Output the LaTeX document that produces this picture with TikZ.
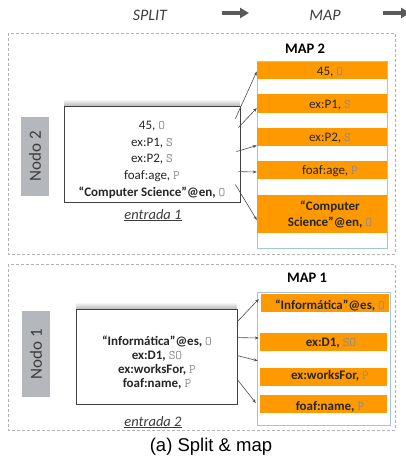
\documentclass[tikz,border=0pt]{standalone}
\usepackage{fontspec}
\setmainfont{Carlito}
\newfontfamily\capfont{Liberation Sans}
\usetikzlibrary{arrows.meta,calc}
\definecolor{barorange}{RGB}{255,153,0}
\definecolor{mapedge}{RGB}{160,196,226}
\definecolor{nodogray}{RGB}{180,184,188}
\definecolor{codegray}{RGB}{140,140,140}
\definecolor{inkgray}{RGB}{60,60,60}
\newcommand\roleltr[1]{{\ttfamily\mdseries\color{codegray}#1}}

\begin{document}
\begin{tikzpicture}[x=1pt,y=-1pt,
  hdr/.style={font=\fontsize{16}{18}\selectfont\itshape, text=inkgray, anchor=base, inner sep=0pt},
  flowarrow/.style={draw=inkgray!85, line width=4pt, -{Triangle[length=9pt,width=10pt]}},
  panelframe/.style={draw=gray!60, dash pattern=on 3pt off 2pt, line width=0.6pt},
  nodotag/.style={fill=nodogray, text=inkgray, rotate=90, inner sep=0pt,
    font=\fontsize{17}{19}\selectfont},
  inbox/.style={draw=black!75, fill=white, line width=0.8pt, inner sep=0pt},
  mapbox/.style={draw=mapedge, fill=white, line width=0.7pt, inner sep=0pt},
  bar/.style={fill=barorange, inner sep=0pt},
  txt/.style={font=\fontsize{13}{15}\selectfont, anchor=base, inner sep=0pt, text=black!85},
  btxt/.style={txt, font=\fontsize{13}{15}\selectfont\bfseries},
  entry/.style={font=\fontsize{14.5}{16}\selectfont\itshape, anchor=base, inner sep=0pt, text=inkgray},
  maptitle/.style={font=\fontsize{14.5}{16}\selectfont\bfseries, anchor=base, inner sep=0pt},
  conn/.style={draw=black!70, line width=0.6pt, -{Stealth[length=4pt,width=3pt]}},
]
\useasboundingbox (0,0) rectangle (406,461);

% header: phases of the pipeline
\node[hdr] (split) at (150,20) {SPLIT};
\node[hdr] (maphdr) at (325,20) {MAP};
\coordinate (fa1s) at (222,13);
\coordinate (fa1e) at (249,13);
\coordinate (fa2s) at (383,13);
\coordinate (fa2e) at (410,13);
\draw[flowarrow] (fa1s) -- (fa1e);
\draw[flowarrow] (fa2s) -- (fa2e);

% ---------------- Nodo 2 ----------------
\draw[panelframe] (8,33) rectangle (395,254);
\node[nodotag, minimum width=79, minimum height=28] (n2) at (35,156.5) {Nodo 2};

\shade[top color=white, bottom color=black!28] (64,99) rectangle (240,106);
\node[inbox, minimum width=176, minimum height=96] (e1) at (152,154) {};
\node[txt] (e1a) at (152,129) {45, \roleltr{O}};
\node[txt] (e1b) at (152,146) {ex:P1, \roleltr{S}};
\node[txt] (e1c) at (152,162) {ex:P2, \roleltr{S}};
\node[txt] (e1d) at (152,179) {foaf:age, \roleltr{P}};
\node[btxt] (e1e) at (152,196) {“Computer Science”@en, \roleltr{O}};
\node[entry] (in1) at (153,219) {\underline{entrada 1}};

\node[maptitle] (m2t) at (305,53) {MAP 2};
\node[mapbox, minimum width=130, minimum height=187] (m2) at (322,154.5) {};
\node[bar, minimum width=130, minimum height=17] (b1) at (322,70.5) {};
\node[bar, minimum width=130, minimum height=19] (b2) at (322,103.5) {};
\node[bar, minimum width=130, minimum height=18] (b3) at (322,137) {};
\node[bar, minimum width=130, minimum height=18] (b4) at (322,170) {};
\node[bar, minimum width=130, minimum height=38] (b5) at (322,214) {};
\node[txt] (b1t) at (330,75) {45, \roleltr{O}};
\node[txt] (b2t) at (330,108) {ex:P1, \roleltr{S}};
\node[txt] (b3t) at (330,141.5) {ex:P2, \roleltr{S}};
\node[txt] (b4t) at (330,174) {foaf:age, \roleltr{P}};
\node[btxt] (b5t) at (330,210) {“Computer};
\node[btxt] (b5u) at (330,226) {Science”@en, \roleltr{O}};

\coordinate (s1) at ($(e1.north east)+(-5,13)$);
\coordinate (s2) at ($(e1.north east)+(-2,22)$);
\coordinate (s3) at ($(e1.north east)+(-4,46)$);
\coordinate (s4) at ($(e1.north east)+(-2,66)$);
\coordinate (s5) at ($(e1.north east)+(-5,79)$);
\draw[conn] (s1) -- ($(b1.west)+(0,1)$);
\draw[conn] (s2) -- ($(b2.west)+(0,4.5)$);
\draw[conn] (s3) -- ($(b3.west)+(0,8.5)$);
\draw[conn] (s4) -- ($(b4.west)+(0,2)$);
\draw[conn] (s5) -- ($(b5.west)+(0,6)$);

% ---------------- Nodo 1 ----------------
\draw[panelframe] (8,264) rectangle (395,430);
\node[nodotag, minimum width=86, minimum height=28] (n1) at (36,354) {Nodo 1};

\shade[top color=white, bottom color=black!28] (76,302) rectangle (237,309);
\node[inbox, minimum width=161, minimum height=95] (e2) at (156.5,356.5) {};
\node[btxt] (e2a) at (157,345) {“Informática”@es, \roleltr{O}};
\node[btxt] (e2b) at (157,359) {ex:D1, \roleltr{SO}};
\node[btxt] (e2c) at (157,373) {ex:worksFor, \roleltr{P}};
\node[btxt] (e2d) at (157,387) {foaf:name, \roleltr{P}};
\node[entry] (in2) at (153,426) {\underline{entrada 2}};

\node[maptitle] (m1t) at (307,282) {MAP 1};
\node[mapbox, minimum width=133, minimum height=133] (m1) at (323.5,358.5) {};
\node[bar, minimum width=128, minimum height=18] (c1) at (325,303) {};
\node[bar, minimum width=127, minimum height=18] (c2) at (323.5,342) {};
\node[bar, minimum width=127, minimum height=18] (c3) at (323.5,377) {};
\node[bar, minimum width=127, minimum height=18] (c4) at (323.5,404) {};
\node[btxt] (c1t) at (330,309) {“Informática”@es, \roleltr{O}};
\node[btxt] (c2t) at (331,346.5) {ex:D1, \roleltr{SO}};
\node[btxt] (c3t) at (330,379) {ex:worksFor, \roleltr{P}};
\node[btxt] (c4t) at (330,410) {foaf:name, \roleltr{P}};

\coordinate (t1) at ($(e2.north east)+(0,13)$);
\coordinate (t2) at ($(e2.north east)+(0,29)$);
\coordinate (t3) at ($(e2.north east)+(0,47)$);
\coordinate (t4) at ($(e2.north east)+(0,71)$);
\draw[conn] (t1) -- ($(c1.west)+(-2,-4)$);
\draw[conn] (t2) -- ($(c2.west)+(-1,-4)$);
\draw[conn] (t3) -- ($(c3.north west)+(-2,-7)$);
\draw[conn] (t4) -- ($(c4.west)+(-4,-1)$);

% caption
\node[font=\capfont\fontsize{18.5}{20}\selectfont, anchor=base, inner sep=0pt] (cap) at (211,451.5) {(a) Split \& map};
\end{tikzpicture}
\end{document}
